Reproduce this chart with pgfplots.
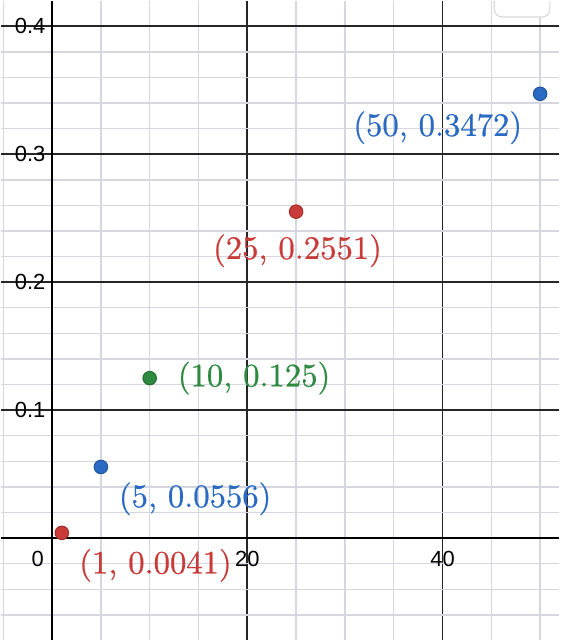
\documentclass[border=0pt]{standalone}
\usepackage{fontspec}
\setsansfont{Liberation Sans}
\newfontfamily\lmten{lmroman10-regular}[Extension=.otf, FakeBold=0.7]
\usepackage{pgfplots}
\pgfplotsset{compat=1.18}
\definecolor{dred}{HTML}{C93B38}
\definecolor{dblue}{HTML}{2B6AC2}
\definecolor{dgreen}{HTML}{2E8A40}
\definecolor{minorgrid}{RGB}{214,214,224}
\begin{document}
\begin{tikzpicture}
\begin{axis}[
 width=280pt, height=320.5pt, scale only axis,
 xmin=-5.204, xmax=51.939, ymin=-0.0794, ymax=0.4195,
 axis lines=middle, axis line style={-, line width=1.3pt, black},
 xtick={20,40}, ytick={0.1,0.2,0.3,0.4},
 minor xtick={-5,5,10,15,25,30,35,45,50},
 minor ytick={-0.06,-0.04,-0.02,0.02,0.04,0.06,0.08,0.12,0.14,0.16,0.18,0.22,0.24,0.26,0.28,0.32,0.34,0.36,0.38},
 grid=both,
 major grid style={line width=0.9pt, black!85},
 minor grid style={line width=0.7pt, minorgrid},
 major tick length=0pt, minor tick length=0pt,
 tick label style={font=\sffamily\fontsize{11}{12}\selectfont},
 /pgf/number format/assume math mode=true,
 /pgf/number format/fixed,
 xticklabel style={anchor=north, yshift=-6.5pt, inner sep=0pt},
 yticklabel style={anchor=east, xshift=-3.2pt, inner sep=0pt},
 clip=true,
]
\addplot[only marks, mark=*, mark size=3.4pt, mark options={fill=dred, draw=dred!80!black, line width=0.5pt}] coordinates {(1,0.0041) (25,0.2551)};
\addplot[only marks, mark=*, mark size=3.4pt, mark options={fill=dblue, draw=dblue!80!black, line width=0.5pt}] coordinates {(5,0.0556) (50,0.3472)};
\addplot[only marks, mark=*, mark size=3.4pt, mark options={fill=dgreen, draw=dgreen!80!black, line width=0.5pt}] coordinates {(10,0.125)};
\node[dred, font=\lmten\fontsize{16.4}{19}\selectfont, inner sep=0pt, xshift=47pt, yshift=-16.3pt] at (axis cs:1,0.0041) {(1, 0.0041)};
\node[dblue, font=\lmten\fontsize{16.4}{19}\selectfont, inner sep=0pt, xshift=47.3pt, yshift=-16pt] at (axis cs:5,0.0556) {(5, 0.0556)};
\node[dgreen, font=\lmten\fontsize{16.4}{19}\selectfont, inner sep=0pt, xshift=52.4pt, yshift=0pt] at (axis cs:10,0.125) {(10, 0.125)};
\node[dred, font=\lmten\fontsize{16.4}{19}\selectfont, inner sep=0pt, xshift=0.7pt, yshift=-19.6pt] at (axis cs:25,0.2551) {(25, 0.2551)};
\node[dblue, font=\lmten\fontsize{16.4}{19}\selectfont, inner sep=0pt, xshift=-51.4pt, yshift=-17pt] at (axis cs:50,0.3472) {(50, 0.3472)};
\node[anchor=north east, inner sep=0pt, xshift=-4pt, yshift=-6.5pt, font=\sffamily\fontsize{11}{12}\selectfont] at (axis cs:0,0) {0};
\draw[fill=white, draw=black!15, rounded corners=4pt, line width=0.6pt] (axis cs:45.3,0.4072) rectangle (axis cs:51.0,0.46);
\end{axis}
\end{tikzpicture}
\end{document}
